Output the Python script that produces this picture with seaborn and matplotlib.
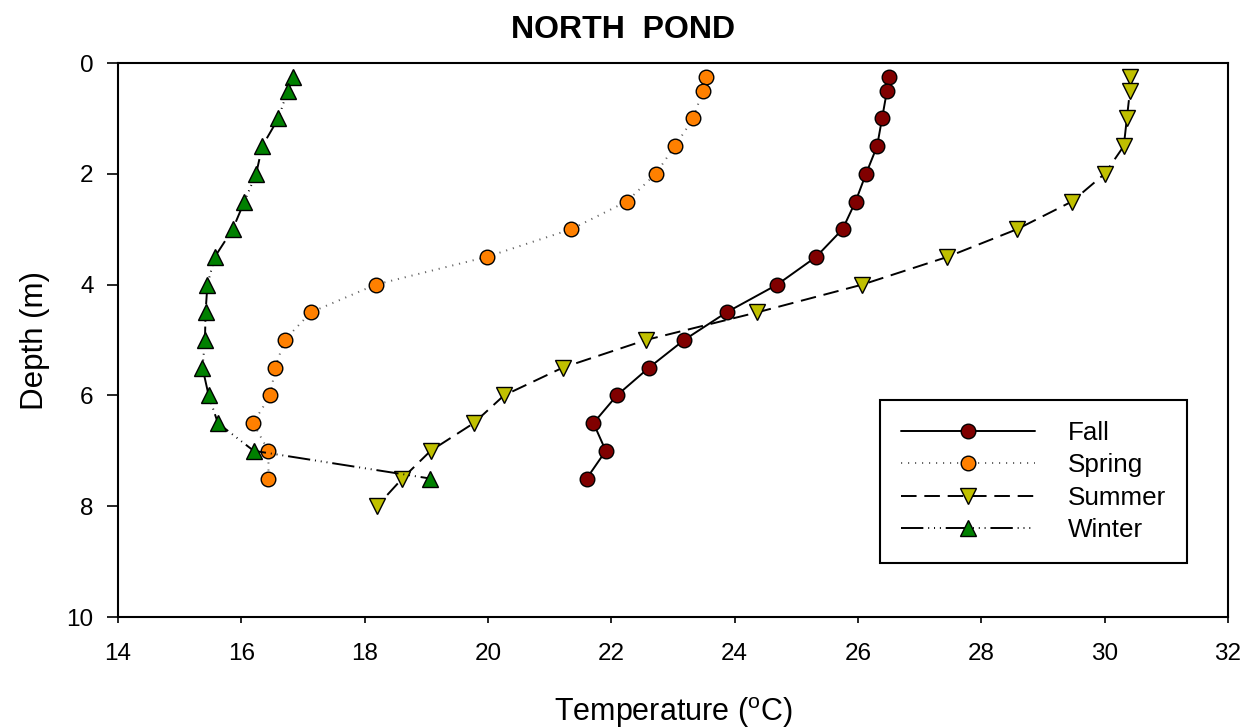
import matplotlib
matplotlib.use("Agg")
import matplotlib.pyplot as plt
import pandas as pd
import seaborn as sns

# depth (m) profiles, temperature (degC)
depth_fall = [0.25, 0.5, 1, 1.5, 2, 2.5, 3, 3.5, 4, 4.5, 5, 5.5, 6, 6.5, 7, 7.5]
temp_fall = [26.50, 26.47, 26.39, 26.31, 26.13, 25.96, 25.75, 25.32,
             24.69, 23.87, 23.18, 22.61, 22.09, 21.71, 21.91, 21.60]

depth_spring = [0.25, 0.5, 1, 1.5, 2, 2.5, 3, 3.5, 4, 4.5, 5, 5.5, 6, 6.5, 7, 7.5]
temp_spring = [23.54, 23.48, 23.33, 23.03, 22.72, 22.25, 21.35, 19.98,
               18.18, 17.13, 16.70, 16.55, 16.47, 16.19, 16.44, 16.44]

depth_summer = [0.25, 0.5, 1, 1.5, 2, 2.5, 3, 3.5, 4, 4.5, 5, 5.5, 6, 6.5, 7, 7.5, 8]
temp_summer = [30.41, 30.41, 30.36, 30.31, 30.00, 29.47, 28.58, 27.45,
               26.07, 24.37, 22.56, 21.21, 20.26, 19.77, 19.07, 18.61, 18.20]

depth_winter = [0.25, 0.5, 1, 1.5, 2, 2.5, 3, 3.5, 4, 4.5, 5, 5.5, 6, 6.5, 7, 7.5]
temp_winter = [16.84, 16.75, 16.60, 16.34, 16.24, 16.05, 15.86, 15.57,
               15.45, 15.42, 15.41, 15.37, 15.47, 15.62, 16.20, 19.06]

x_ticks = [14, 16, 18, 20, 22, 24, 26, 28, 30, 32]
y_ticks = [0, 2, 4, 6, 8, 10]

series = [
    ("Fall", depth_fall, temp_fall, "o", "#800000", "-", "k", 10.5),
    ("Spring", depth_spring, temp_spring, "o", "#ff8000", (0, (0.6, 3.0)), "#666666", 10.5),
    ("Summer", depth_summer, temp_summer, "v", "#c0c000", (0, (8, 4)), "k", 12),
    ("Winter", depth_winter, temp_winter, "^", "#008000",
     (0, (11.5, 2.5, 0.5, 2.5, 0.5, 2.5, 0.5, 2.5)), "k", 12),
]

sns.set_style("white")
plt.rcParams["font.family"] = ["Liberation Sans", "DejaVu Sans"]
plt.rcParams["mathtext.fontset"] = "custom"
plt.rcParams["mathtext.rm"] = "Liberation Sans"
plt.rcParams["text.color"] = "k"
plt.rcParams["axes.labelcolor"] = "k"

fig = plt.figure(figsize=(12.5, 7.28), dpi=100)
ax = fig.add_axes([118 / 1250, 1 - 617 / 728, 1110 / 1250, 554 / 728])

for name, depth, temp, mk, fc, ls, lc, ms in series:
    df = pd.DataFrame({"Temperature": temp, "Depth": depth})
    sns.lineplot(data=df, x="Temperature", y="Depth", orient="y", sort=False,
                 estimator=None, ax=ax, color=lc, linestyle=ls, linewidth=1.4,
                 marker=mk, markersize=ms, markerfacecolor=fc,
                 markeredgecolor="k", markeredgewidth=1.0, label=name)

ax.set_xlim(14, 32)
ax.set_ylim(10, 0)
ax.set_xticks(x_ticks)
ax.set_yticks(y_ticks)
ax.tick_params(axis="x", direction="out", length=4.5, width=1.2, labelsize=17.5,
               pad=14, colors="k", bottom=True)
ax.tick_params(axis="y", direction="out", length=8, width=1.2, labelsize=17.5,
               pad=9.5, colors="k", left=True)
for sp in ax.spines.values():
    sp.set_visible(True)
    sp.set_color("k")
    sp.set_linewidth(1.5)

ax.set_xlabel(r"Temperature ($^\mathrm{o}$C)", fontsize=22, labelpad=22)
ax.set_ylabel("Depth (m)", fontsize=22.5, labelpad=12)
ax.set_title("NORTH  POND", fontsize=23, fontweight="bold", pad=18, x=0.455)

leg = ax.legend(loc="upper left", bbox_to_anchor=(0.6865, 0.3917),
                borderaxespad=0, fontsize=18.7, handlelength=5.15,
                handletextpad=1.3, labelspacing=0.33, borderpad=0.8,
                frameon=True, fancybox=False, framealpha=1)
leg.get_frame().set_edgecolor("k")
leg.get_frame().set_linewidth(1.5)

fig.savefig("out.png", dpi=100)
